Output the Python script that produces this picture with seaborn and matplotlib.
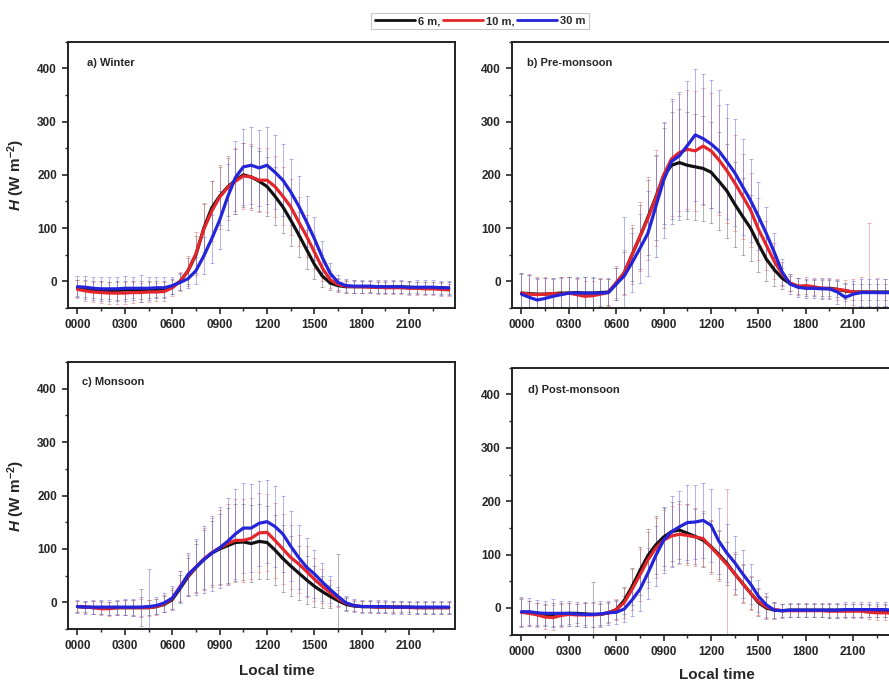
import numpy as np
import pandas as pd
import matplotlib
matplotlib.use("Agg")
import matplotlib.pyplot as plt
import seaborn as sns
from matplotlib.ticker import MultipleLocator
from matplotlib.lines import Line2D

# ---------------- data (half-hourly means and standard deviations) ----------------
hours = np.arange(0, 24, 0.5)
heights = ["6 m", "10 m", "30 m"]
legend_labels = ["6 m,", "10 m,", "30 m"]
xtick_vals = [0, 3, 6, 9, 12, 15, 18, 21]
xtick_labels = ["0000", "0300", "0600", "0900", "1200", "1500", "1800", "2100"]
ytick_vals = [0, 100, 200, 300, 400]
panel_titles = ["a) Winter", "b) Pre-monsoon", "c) Monsoon", "d) Post-monsoon"]

winter_6m = [-12, -14, -16, -16, -17, -17, -16, -16, -16, -15, -15, -14,
             -10, 0, 20, 50, 100, 138, 160, 177, 190, 200, 196, 188,
             178, 160, 140, 115, 88, 60, 32, 10, -3, -8, -10, -10,
             -10, -10, -11, -11, -11, -11, -11, -12, -12, -12, -12, -13]
winter_10m = [-15, -18, -20, -21, -22, -22, -22, -21, -21, -20, -20, -19,
              -12, 0, 20, 52, 98, 132, 158, 176, 188, 198, 196, 190,
              190, 178, 160, 140, 112, 85, 55, 25, 3, -6, -9, -10,
              -10, -11, -11, -12, -12, -12, -13, -13, -14, -14, -15, -16]
winter_30m = [-10, -11, -13, -14, -14, -14, -13, -13, -13, -13, -12, -12,
              -8, -2, 5, 20, 48, 80, 115, 158, 195, 215, 218, 213,
              218, 205, 190, 168, 142, 112, 80, 45, 15, -2, -8, -9,
              -9, -9, -10, -10, -10, -10, -11, -11, -11, -11, -12, -12]

premon_6m = [-22, -23, -24, -24, -23, -22, -22, -21, -22, -22, -21, -20,
             -5, 16, 50, 84, 120, 158, 198, 218, 223, 218, 215, 212,
             205, 188, 170, 145, 122, 100, 70, 42, 22, 6, -4, -9,
             -12, -12, -13, -13, -15, -18, -20, -20, -20, -20, -20, -20]
premon_10m = [-22, -24, -25, -24, -23, -24, -22, -25, -28, -27, -24, -21,
              -2, 16, 50, 84, 118, 156, 200, 230, 242, 248, 245, 254,
              245, 228, 208, 185, 160, 134, 98, 68, 38, 14, -3, -9,
              -8, -10, -13, -14, -15, -17, -20, -20, -20, -21, -21, -21]
premon_30m = [-24, -30, -35, -32, -28, -25, -22, -22, -22, -22, -22, -21,
              -5, 10, 35, 62, 90, 140, 190, 225, 236, 255, 275, 268,
              258, 245, 225, 204, 178, 152, 122, 90, 55, 18, -5, -11,
              -13, -13, -14, -14, -20, -30, -24, -21, -21, -21, -21, -21]

mon_6m = [-8, -9, -10, -10, -11, -10, -10, -10, -10, -10, -8, -4,
          5, 26, 48, 65, 80, 92, 100, 106, 112, 113, 110, 114,
          112, 98, 82, 68, 55, 42, 30, 20, 11, 3, -4, -7,
          -8, -8, -9, -9, -9, -9, -9, -10, -10, -10, -10, -10]
mon_10m = [-8, -9, -10, -12, -12, -10, -10, -10, -10, -10, -8, -3,
           7, 30, 50, 66, 81, 93, 102, 110, 116, 116, 120, 130,
           131, 116, 100, 84, 72, 58, 43, 30, 18, 7, -2, -6,
           -8, -8, -9, -9, -9, -9, -10, -10, -10, -10, -10, -10]
mon_30m = [-8, -9, -9, -9, -9, -9, -9, -9, -9, -8, -6, -1,
           8, 28, 52, 66, 80, 92, 102, 114, 128, 139, 139, 148,
           151, 142, 128, 105, 84, 66, 53, 38, 24, 11, -1, -6,
           -8, -8, -8, -8, -9, -9, -9, -9, -9, -9, -9, -9]

postmon_6m = [-8, -9, -11, -12, -12, -11, -10, -10, -11, -12, -12, -9,
              -3, 14, 40, 70, 98, 118, 133, 143, 146, 140, 134, 127,
              115, 100, 84, 64, 46, 28, 10, 0, -4, -5, -4, -4,
              -4, -4, -4, -4, -4, -4, -4, -4, -5, -5, -5, -5]
postmon_10m = [-8, -10, -13, -17, -18, -14, -12, -13, -13, -13, -12, -9,
               -3, 10, 35, 62, 90, 112, 127, 135, 138, 136, 133, 130,
               114, 98, 82, 64, 46, 28, 12, 2, -3, -5, -5, -5,
               -5, -5, -5, -6, -6, -6, -6, -6, -8, -9, -9, -10]
postmon_30m = [-7, -7, -9, -10, -10, -10, -10, -11, -12, -12, -11, -9,
               -8, -2, 15, 35, 65, 98, 127, 143, 152, 160, 161, 164,
               155, 125, 103, 85, 64, 45, 22, 6, -4, -5, -4, -4,
               -4, -4, -4, -4, -4, -3, -3, -3, -3, -3, -3, -4]

winter_6m_sd = [15, 16, 16, 17, 16, 18, 17, 16, 17, 16, 15, 15,
                14, 16, 24, 35, 45, 50, 55, 55, 58, 60, 58, 56,
                55, 54, 50, 48, 42, 36, 28, 20, 14, 12, 11, 11,
                11, 10, 10, 10, 11, 11, 11, 10, 11, 11, 11, 11]
winter_10m_sd = [17, 18, 18, 19, 20, 20, 20, 19, 18, 18, 17, 17,
                 15, 18, 28, 40, 50, 56, 60, 60, 62, 62, 62, 60,
                 60, 58, 55, 52, 46, 40, 32, 24, 16, 12, 12, 12,
                 11, 11, 12, 12, 12, 12, 12, 12, 12, 12, 12, 12]
winter_30m_sd = [20, 22, 22, 22, 22, 22, 24, 22, 25, 22, 20, 20,
                 16, 15, 18, 25, 35, 45, 55, 62, 68, 72, 72, 72,
                 72, 70, 68, 62, 56, 48, 40, 30, 20, 14, 12, 12,
                 12, 12, 12, 12, 12, 12, 12, 13, 13, 13, 13, 13]

premon_6m_sd = [35, 35, 30, 30, 28, 30, 30, 28, 30, 28, 25, 25,
                30, 40, 50, 60, 70, 80, 90, 100, 100, 100, 100, 98,
                95, 92, 88, 80, 72, 62, 52, 42, 30, 20, 15, 15,
                15, 15, 15, 15, 15, 15, 15, 15, 15, 15, 15, 15]
premon_10m_sd = [38, 38, 34, 32, 30, 32, 30, 30, 28, 28, 28, 26,
                 30, 42, 55, 65, 78, 90, 100, 108, 110, 112, 112, 110,
                 108, 104, 98, 90, 80, 70, 58, 46, 34, 22, 16, 16,
                 16, 16, 18, 18, 20, 20, 25, 28, 130, 28, 25, 25]
premon_30m_sd = [40, 42, 40, 38, 35, 32, 30, 30, 30, 30, 28, 28,
                 30, 110, 55, 65, 80, 95, 108, 118, 120, 122, 124, 122,
                 120, 115, 108, 100, 90, 78, 64, 50, 36, 24, 18, 18,
                 18, 18, 20, 20, 22, 25, 25, 25, 25, 25, 25, 25]

mon_6m_sd = [10, 10, 12, 12, 12, 12, 14, 14, 35, 14, 14, 15,
             18, 25, 35, 45, 55, 60, 65, 70, 72, 72, 72, 70,
             68, 66, 62, 56, 50, 45, 38, 30, 22, 88, 12, 10,
             10, 10, 10, 10, 10, 10, 10, 10, 10, 10, 10, 10]
mon_10m_sd = [11, 11, 12, 12, 13, 13, 14, 15, 16, 15, 15, 16,
              20, 28, 38, 48, 58, 64, 70, 75, 78, 78, 76, 74,
              72, 70, 66, 60, 54, 48, 40, 32, 24, 16, 12, 11,
              11, 11, 11, 11, 11, 11, 11, 11, 11, 11, 11, 11]
mon_30m_sd = [12, 12, 13, 13, 14, 14, 15, 16, 18, 70, 16, 18,
              22, 30, 40, 52, 62, 70, 76, 82, 84, 84, 82, 80,
              78, 76, 72, 66, 60, 54, 45, 36, 26, 18, 13, 12,
              12, 12, 12, 12, 12, 12, 12, 12, 12, 12, 12, 12]

postmon_6m_sd = [25, 22, 20, 20, 22, 20, 20, 18, 20, 60, 20, 18,
                 18, 25, 35, 45, 50, 55, 55, 55, 55, 55, 52, 50,
                 48, 45, 40, 38, 35, 30, 25, 20, 14, 12, 12, 12,
                 12, 12, 12, 12, 12, 12, 12, 12, 12, 12, 12, 12]
postmon_10m_sd = [26, 24, 22, 22, 24, 22, 22, 20, 22, 22, 22, 20,
                  20, 28, 38, 48, 52, 56, 56, 56, 56, 56, 54, 52,
                  50, 48, 140, 40, 36, 32, 26, 20, 15, 12, 12, 12,
                  12, 12, 12, 13, 13, 13, 13, 13, 13, 13, 14, 14]
postmon_30m_sd = [28, 26, 24, 24, 26, 24, 24, 22, 24, 24, 24, 22,
                  22, 24, 30, 40, 48, 56, 62, 66, 68, 70, 70, 70,
                  68, 62, 55, 50, 45, 38, 30, 22, 16, 13, 13, 13,
                  13, 13, 13, 14, 14, 14, 14, 14, 14, 14, 14, 14]

panels = [
    ([winter_6m, winter_10m, winter_30m], [winter_6m_sd, winter_10m_sd, winter_30m_sd]),
    ([premon_6m, premon_10m, premon_30m], [premon_6m_sd, premon_10m_sd, premon_30m_sd]),
    ([mon_6m, mon_10m, mon_30m], [mon_6m_sd, mon_10m_sd, mon_30m_sd]),
    ([postmon_6m, postmon_10m, postmon_30m], [postmon_6m_sd, postmon_10m_sd, postmon_30m_sd]),
]

# ---------------- styling ----------------
sns.set_theme(style="ticks")
plt.rcParams["font.family"] = ["Liberation Sans", "DejaVu Sans"]
plt.rcParams["mathtext.fontset"] = "custom"
plt.rcParams["mathtext.rm"] = "Liberation Sans:bold"
plt.rcParams["mathtext.it"] = "Liberation Sans:italic:bold"
plt.rcParams["mathtext.bf"] = "Liberation Sans:bold"

line_colors = ["#111111", "#e3262b", "#2424d8"]
err_colors = ["#6a6a6a", "#e07070", "#6a6ae0"]
palette = dict(zip(heights, line_colors))

W, H = 889, 683
fig = plt.figure(figsize=(W / 100, H / 100), dpi=100)
fig.patch.set_facecolor("white")


def add_ax(l, t, w, h):
    return fig.add_axes([l / W, 1 - (t + h) / H, w / W, h / H])


axes = [add_ax(68, 41.7, 387, 266.3), add_ax(512, 41.7, 387, 266.3),
        add_ax(68, 362, 387, 267), add_ax(512, 367.7, 387, 267)]
title_pos = [(0.049, 0.92), (0.039, 0.92), (0.035, 0.926), (0.041, 0.917)]

for i, (ax, (means, sds)) in enumerate(zip(axes, panels)):
    for m, s, ec in zip(means, sds, err_colors):
        ax.errorbar(hours, m, yerr=s, fmt="none", ecolor=ec, elinewidth=0.6,
                    capsize=1.6, capthick=0.6, alpha=0.6, zorder=1)
    df = pd.concat([pd.DataFrame({"hour": hours, "H": m, "height": h})
                    for m, h in zip(means, heights)], ignore_index=True)
    sns.lineplot(data=df, x="hour", y="H", hue="height", hue_order=heights,
                 palette=palette, linewidth=2.3, legend=False, ax=ax,
                 errorbar=None, zorder=3)
    ax.set_xlim(-0.6, 23.9)
    ax.set_ylim(-50, 450)
    ax.set_xticks(xtick_vals)
    ax.set_xticklabels(xtick_labels)
    ax.set_yticks(ytick_vals)
    ax.xaxis.set_minor_locator(MultipleLocator(1.5))
    ax.yaxis.set_minor_locator(MultipleLocator(50))
    ax.tick_params(which="major", direction="out", length=4, width=1.2,
                   labelsize=8.5, pad=4, top=False, right=False)
    ax.tick_params(which="minor", direction="out", length=2.5, width=1.0,
                   top=False, right=False)
    for lab in ax.get_xticklabels() + ax.get_yticklabels():
        lab.set_fontweight("bold")
    for sp in ax.spines.values():
        sp.set_linewidth(1.4)
        sp.set_color("#222222")
    ax.text(title_pos[i][0], title_pos[i][1], panel_titles[i], transform=ax.transAxes,
            fontsize=8, fontweight="bold", ha="left", va="center")
    if i % 2 == 0:
        ax.set_ylabel(r"$\mathit{H}\ \mathrm{(W\ m^{-2})}$", fontsize=11)
        ax.yaxis.set_label_coords(-0.105, 0.5)
    else:
        ax.set_ylabel("")
    if i >= 2:
        ax.set_xlabel("Local time", fontsize=11, fontweight="bold")
    else:
        ax.set_xlabel("")

axes[2].xaxis.set_label_coords(0.54, -0.13)
axes[3].xaxis.set_label_coords(0.53, -0.125)

handles = [Line2D([0], [0], color=c, lw=2) for c in line_colors]
leg = fig.legend(handles, legend_labels, loc="center", bbox_to_anchor=(480 / W, 1 - 21 / H),
                 ncol=3, frameon=True, fancybox=False, prop={"weight": "bold", "size": 8},
                 handlelength=3.6, handletextpad=0.25, columnspacing=0.25,
                 borderpad=0.3, borderaxespad=0)
leg.get_frame().set_edgecolor("#bbbbbb")
leg.get_frame().set_linewidth(0.8)

fig.savefig("out.png", dpi=100, facecolor="white")
